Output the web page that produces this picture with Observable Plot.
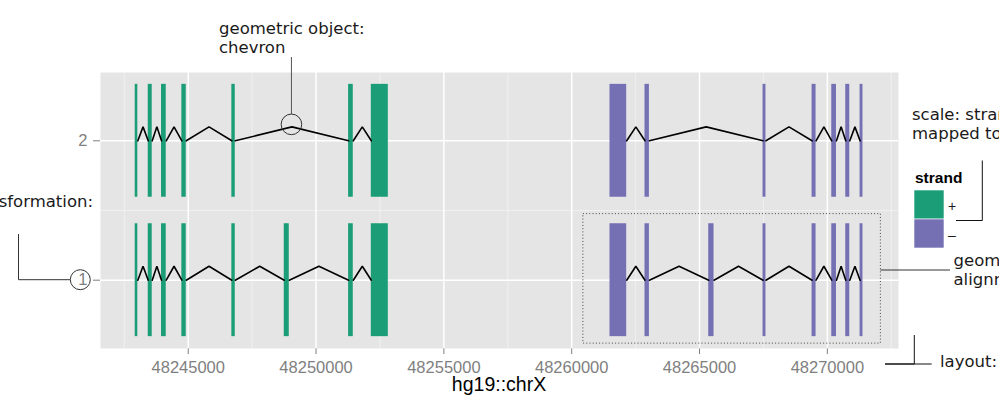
<!DOCTYPE html>
<html>
<head>
<meta charset="utf-8">
<script src="https://cdn.jsdelivr.net/npm/d3@7"></script>
<script src="https://cdn.jsdelivr.net/npm/@observablehq/plot@0.6"></script>
<style>
  html, body { margin: 0; padding: 0; background: white; overflow: hidden; }
  #chart svg { display: block; overflow: hidden; }
</style>
</head>
<body>
<div id="chart"></div>
<script>
// ---- data ----
const xTicks = [48245000, 48250000, 48255000, 48260000, 48265000, 48270000];
const xMinorTicks = [48242500, 48247500, 48252500, 48257500, 48262500, 48267500, 48272500];
const yTicks = [1, 2];
const yMinorTicks = [1.5];
const strands = ["+", "-"];
const strandLabels = ["+", "–"];
const strandColors = ["#1b9e77", "#7570b3"];
const plusStart  = [48242926, 48243435, 48243955, 48244750, 48246706, 48248756, 48251273, 48252161];
const plusEnd    = [48243028, 48243591, 48244139, 48244922, 48246839, 48248952, 48251456, 48252826];
const minusStart = [48261497, 48262867, 48265360, 48267484, 48269402, 48270172, 48270720, 48271280];
const minusEnd   = [48262151, 48263039, 48265567, 48267598, 48269558, 48270356, 48270877, 48271393];
const plusRow1Exons  = [0, 1, 2, 3, 4, 5, 6, 7];
const plusRow2Exons  = [0, 1, 2, 3, 4, 6, 7];
const minusRow1Exons = [0, 1, 2, 3, 4, 5, 6, 7];
const minusRow2Exons = [0, 1, 3, 4, 5, 6, 7];
const xLabel = "hg19::chrX";

// ---- layout constants ----
const W = 999, H = 410;
const mL = 100, mR = 101, mT = 72, mB = 62;
const xDomain = [48241568, 48272783];
const yDomain = [0.51, 2.49];
const exonHalf = 0.405;
const chevH = 0.1;

// ---- build tables ----
const genes = [
  {strand: "+", start: plusStart, end: plusEnd, rows: [{row: 1, exons: plusRow1Exons}, {row: 2, exons: plusRow2Exons}]},
  {strand: "-", start: minusStart, end: minusEnd, rows: [{row: 1, exons: minusRow1Exons}, {row: 2, exons: minusRow2Exons}]}
];
const exons = [];
const chevrons = [];
let cid = 0;
for (const g of genes) {
  for (const r of g.rows) {
    const ex = r.exons.map(i => ({start: g.start[i], end: g.end[i], strand: g.strand, row: r.row}));
    exons.push(...ex);
    for (let k = 0; k + 1 < ex.length; k++) {
      const a = ex[k].end, b = ex[k + 1].start;
      chevrons.push({id: cid, x: a, y: r.row});
      chevrons.push({id: cid, x: (a + b) / 2, y: r.row + chevH});
      chevrons.push({id: cid, x: b, y: r.row});
      cid++;
    }
  }
}
// alignment box round the minus-strand transcript of row 1
const boxEx = exons.filter(d => d.strand === "-" && d.row === 1);
const box = [{
  x1: d3.min(boxEx, d => d.start) - 1040, x2: d3.max(boxEx, d => d.end) + 700,
  y1: 1 - 0.455, y2: 1 + 0.474
}];

const chart = Plot.plot({
  width: W, height: H,
  marginLeft: mL, marginRight: mR, marginTop: mT, marginBottom: mB,
  style: {fontFamily: "'Liberation Sans', Arial, sans-serif", fontSize: "16.5px", color: "#7f7f7f", background: "white", overflow: "hidden"},
  x: {domain: xDomain, ticks: xTicks, tickFormat: "d", tickSize: 6, tickPadding: 7, label: null},
  y: {domain: yDomain, ticks: yTicks, tickFormat: "d", tickSize: 7, tickPadding: 6, label: null},
  color: {domain: strands, range: strandColors},
  marks: [
    Plot.frame({fill: "#e5e5e5", stroke: "none"}),
    Plot.ruleX(xMinorTicks, {stroke: "#f2f2f2", strokeWidth: 0.8}),
    Plot.ruleY(yMinorTicks, {stroke: "#f2f2f2", strokeWidth: 0.8}),
    Plot.ruleX(xTicks, {stroke: "white", strokeWidth: 1.5}),
    Plot.ruleY(yTicks, {stroke: "white", strokeWidth: 1.5}),
    Plot.rect(exons, {x1: "start", x2: "end", y1: d => d.row - exonHalf, y2: d => d.row + exonHalf, fill: "strand"}),
    Plot.line(chevrons, {x: "x", y: "y", z: "id", stroke: "black", strokeWidth: 1.6, strokeLinejoin: "miter"}),
    Plot.rect(box, {x1: "x1", x2: "x2", y1: "y1", y2: "y2", fill: "none", stroke: "#444", strokeWidth: 1, strokeDasharray: "1,2.2"})
  ]
});
document.getElementById("chart").appendChild(chart);

// ---- annotations overlay ----
const xs = d3.scaleLinear(xDomain, [mL, W - mR]);
const ys = d3.scaleLinear(yDomain, [H - mB, mT]);
const svg = d3.select(chart);
const ann = svg.append("g")
  .attr("font-family", "'DejaVu Sans', sans-serif")
  .attr("font-size", 16.5)
  .attr("text-anchor", "start")
  .attr("fill", "#1a1a1a");

function txt(x, y, s, anchor) {
  ann.append("text").attr("x", x).attr("y", y).attr("text-anchor", anchor || "start").text(s);
}
function path(pts, color) {
  ann.append("path").attr("d", d3.line()(pts)).attr("fill", "none")
    .attr("stroke", color || "#222").attr("stroke-width", 1);
}
function ring(cx, cy, r) {
  ann.append("circle").attr("cx", cx).attr("cy", cy).attr("r", r)
    .attr("fill", "none").attr("stroke", "#333").attr("stroke-width", 1);
}

// chevron callout (row 2, plus strand, longest intron)
const p2 = exons.filter(d => d.strand === "+" && d.row === 2);
const cx = xs((p2[4].end + p2[5].start) / 2);
const cy = ys(2 + chevH) - 2;
txt(219, 33.5, "geometric object:");
txt(219, 53, "chevron");
path([[cx, 57], [cx, cy - 10.3]], "#555");
ring(cx, cy, 10.3);

// transformation callout at y tick "1"
const y1 = ys(1);
txt(93, 206.5, "statistical transformation:", "end");
path([[18.5, 234], [18.5, y1], [70, y1]], "#333");
ring(80.3, y1, 10);

// scale callout
txt(912, 119.5, "scale: strand");
txt(912, 138.5, "mapped to color");
path([[982.3, 160.5], [982.3, 220.5], [956, 220.5]], "#111");

// legend
const lg = svg.append("g").attr("font-family", "'Liberation Sans', Arial, sans-serif").attr("text-anchor", "start");
lg.append("text").attr("x", 915).attr("y", 183).attr("font-weight", "bold").attr("font-size", 15.5)
  .attr("fill", "#000").text("strand");
strands.forEach((s, i) => {
  lg.append("rect").attr("x", 914).attr("y", 190 + i * 29).attr("width", 30).attr("height", 29)
    .attr("fill", strandColors[i]).attr("stroke", "white").attr("stroke-width", 0.6);
  lg.append("text").attr("x", 948).attr("y", 190 + i * 29 + 21).attr("font-size", 14)
    .attr("fill", "#1a1a1a").text(strandLabels[i]);
});

// alignment callout
txt(953.5, 265.5, "geometric object:");
txt(953.5, 285, "alignment");
path([[xs(box[0].x2), 270], [950, 270]], "#333");

// layout callout
txt(940, 366.5, "layout:");
path([[914.3, 335], [914.3, 364], [885, 364], [931.7, 364]], "#111");

// x axis title
svg.append("text").attr("x", (mL + W - mR) / 2).attr("y", 391).attr("text-anchor", "middle")
  .attr("font-family", "'Liberation Sans', Arial, sans-serif").attr("font-size", 19.5)
  .attr("fill", "#000").text(xLabel);
</script>
</body>
</html>
